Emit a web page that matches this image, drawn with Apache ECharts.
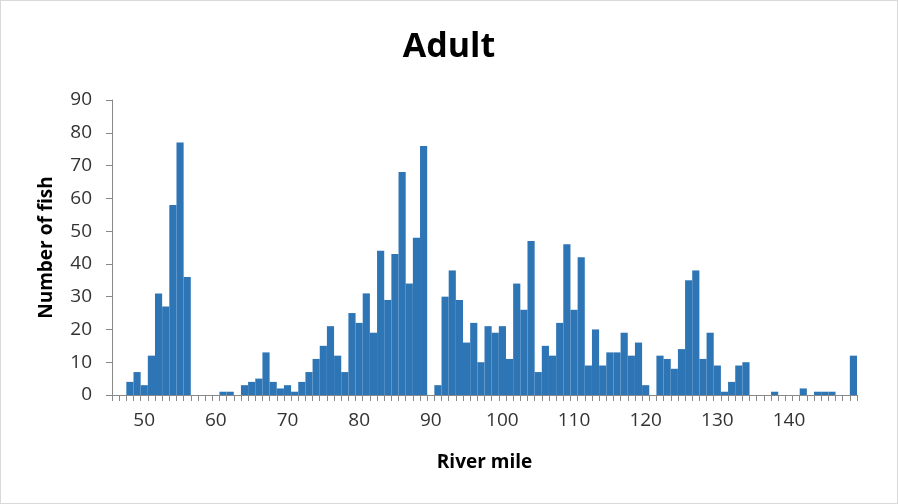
<!DOCTYPE html>
<html>
<head>
<meta charset="utf-8">
<script src="https://cdn.jsdelivr.net/npm/echarts@6/dist/echarts.min.js"></script>
<style>
  html, body { margin: 0; padding: 0; background: #fff; }
  #chart { width: 898px; height: 504px; box-sizing: border-box; border: 1px solid #d9d9d9; }
</style>
</head>
<body>
<div id="chart"></div>
<script>
// River miles 46 through 149, one bar per mile
const riverMiles = [];
for (let m = 46; m <= 149; m++) riverMiles.push(String(m));

// Adult fish counted at each river mile
const fishCounts = [
  0, 0, 4, 7, 3, 12, 31, 27, 58, 77,        // 46-55
  36, 0, 0, 0, 0, 1, 1, 0, 3, 4,            // 56-65
  5, 13, 4, 2, 3, 1, 4, 7, 11, 15,          // 66-75
  21, 12, 7, 25, 22, 31, 19, 44, 29, 43,    // 76-85
  68, 34, 48, 76, 0, 3, 30, 38, 29, 16,     // 86-95
  22, 10, 21, 19, 21, 11, 34, 26, 47, 7,    // 96-105
  15, 12, 22, 46, 26, 42, 9, 20, 9, 13,     // 106-115
  13, 19, 12, 16, 3, 0, 12, 11, 8, 14,      // 116-125
  35, 38, 11, 19, 9, 1, 4, 9, 10, 0,        // 126-135
  0, 0, 1, 0, 0, 0, 2, 0, 1, 1,             // 136-145
  1, 0, 0, 12                               // 146-149
];

const yTicks = { min: 0, max: 90, step: 10 };

const axisGray = '#898989';
const labelColor = '#333333';
const font = '"Open Sans", "Noto Sans", sans-serif';

const chart = echarts.init(document.getElementById('chart'), null, { renderer: 'canvas' });
chart.setOption({
  animation: false,
  title: {
    text: 'Adult',
    left: 'center',
    top: 24,
    textStyle: { fontFamily: font, fontWeight: 'bold', fontSize: 34, color: '#000' }
  },
  grid: { left: 111, right: 40, top: 99, bottom: 108, containLabel: false },
  xAxis: {
    type: 'category',
    data: riverMiles,
    boundaryGap: true,
    name: 'River mile',
    nameLocation: 'middle',
    nameGap: 58,
    nameTextStyle: { fontFamily: font, fontWeight: 'bold', fontSize: 19, color: '#000' },
    axisLine: { lineStyle: { color: axisGray, width: 1 } },
    axisTick: { show: true, interval: 0, alignWithLabel: false, inside: false, length: 6, lineStyle: { color: axisGray } },
    axisLabel: {
      interval: (i, v) => Number(v) % 10 === 0,
      margin: 16,
      fontFamily: font,
      fontSize: 19,
      color: labelColor
    },
    splitLine: { show: false }
  },
  yAxis: {
    type: 'value',
    min: yTicks.min,
    max: yTicks.max,
    interval: yTicks.step,
    name: 'Number of fish',
    nameLocation: 'middle',
    nameGap: 56,
    nameTextStyle: { fontFamily: font, fontWeight: 'bold', fontSize: 19, color: '#000' },
    axisLine: { show: true, lineStyle: { color: axisGray, width: 1 } },
    axisTick: { show: true, length: 6, lineStyle: { color: axisGray } },
    axisLabel: { margin: 20, fontFamily: font, fontSize: 19, color: labelColor },
    splitLine: { show: false }
  },
  series: [{
    type: 'bar',
    data: fishCounts,
    barCategoryGap: '0%',
    barGap: '0%',
    itemStyle: { color: '#2E75B6', borderWidth: 0 }
  }]
});
</script>
</body>
</html>
